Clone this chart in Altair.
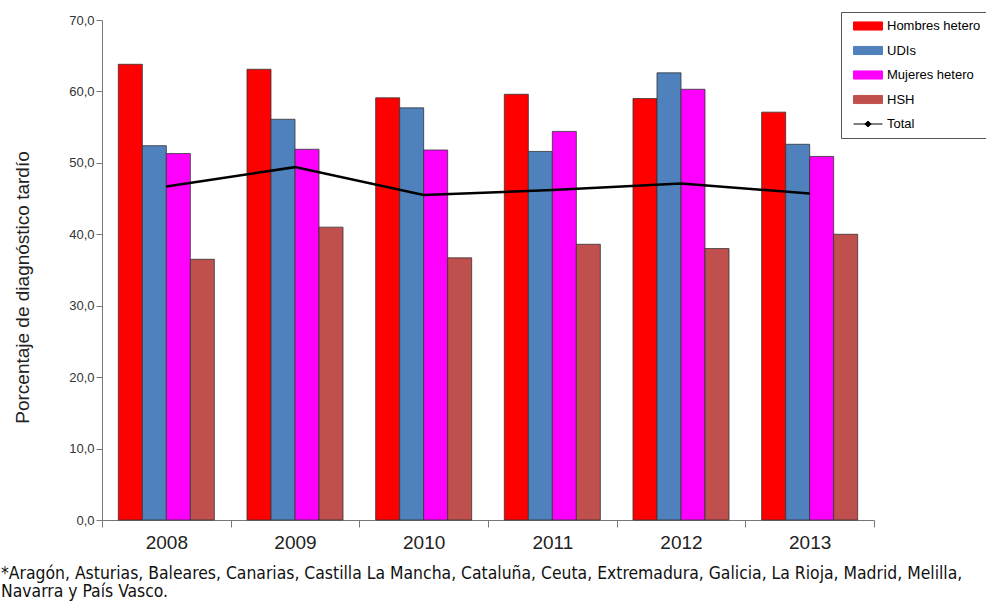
import altair as alt
import pandas as pd

years = ["2008", "2009", "2010", "2011", "2012", "2013"]
series = ["Hombres hetero", "UDIs", "Mujeres hetero", "HSH"]
hombres = [63.8, 63.1, 59.1, 59.6, 59.0, 57.1]
udis = [52.4, 56.1, 57.7, 51.6, 62.6, 52.6]
mujeres = [51.3, 51.9, 51.8, 54.4, 60.3, 50.9]
hsh = [36.5, 41.0, 36.7, 38.6, 38.0, 40.0]
total = [46.7, 49.4, 45.5, 46.2, 47.1, 45.7]
colors = ["#FF0000", "#4F81BD", "#FF00FF", "#C0504D", "#000000"]
footnote = [
    "*Aragón, Asturias, Baleares, Canarias, Castilla La Mancha, Cataluña, Ceuta, Extremadura, Galicia, La Rioja, Madrid, Melilla,",
    "Navarra y País Vasco.",
]

rows = []
for s, vals in zip(series, [hombres, udis, mujeres, hsh]):
    for y, v in zip(years, vals):
        rows.append({"year": y, "serie": s, "value": v})
bars_df = pd.DataFrame(rows)
total_df = pd.DataFrame({"year": years, "serie": "Total", "value": total})

legend_domain = series + ["Total"]
rect = "M-1,-0.28H1V0.28H-1Z"
line_sym = "M-1,0H1M-0.22,0L0,-0.2L0.22,0L0,0.2Z"

color_scale = alt.Scale(domain=legend_domain, range=colors)
shape_scale = alt.Scale(domain=legend_domain, range=[rect, rect, rect, rect, line_sym])

legend = alt.Legend(
    title=None, orient="none", legendX=739, legendY=-8,
    strokeColor="#555", fillColor="white", padding=7,
    labelFont="Liberation Sans", labelFontSize=13, labelColor="#000",
    labelOffset=4, symbolSize=841, symbolStrokeColor="#333",
    symbolStrokeWidth=1, clipHeight=14, rowPadding=10.5, symbolOffset=5,
)

x_enc = alt.X(
    "year:N", sort=years, title=None,
    scale=alt.Scale(paddingInner=0, paddingOuter=0),
    axis=alt.Axis(
        labelAngle=0, labelFont="Liberation Sans", labelFontSize=19,
        labelColor="#222", labelPadding=6, tickBand="extent", tickSize=7,
        tickColor="#777", domainColor="#777", ticks=True,
    ),
)
y_enc = alt.Y(
    "value:Q", title="Porcentaje de diagnóstico tardío",
    scale=alt.Scale(domain=[0, 70], nice=False),
    axis=alt.Axis(
        values=[0, 10, 20, 30, 40, 50, 60, 70],
        labelExpr="replace(format(datum.value, '.1f'), '.', ',')",
        labelFont="Liberation Sans", labelFontSize=13, labelColor="#333",
        tickSize=6, tickColor="#777", domainColor="#777", grid=False,
        titleFont="Liberation Sans", titleFontSize=19, titleFontWeight="normal",
        titleColor="#222", titleX=-80, titleY=267, titleAngle=-90,
        titleAlign="center", titleBaseline="middle",
    ),
)

bars = alt.Chart(bars_df).mark_bar(stroke="#333", strokeWidth=0.8).encode(
    x=x_enc,
    xOffset=alt.XOffset("serie:N", sort=series,
                        scale=alt.Scale(paddingInner=0, paddingOuter=0.68)),
    y=y_enc,
    color=alt.Color("serie:N", scale=color_scale, legend=legend),
    shape=alt.Shape("serie:N", scale=shape_scale, legend=legend),
)

line = alt.Chart(total_df).mark_line(
    strokeWidth=2.5,
    point=alt.OverlayMarkDef(shape="diamond", size=30, filled=True, color="black"),
).encode(
    x=alt.X("year:N", sort=years),
    y=alt.Y("value:Q"),
    color=alt.Color("serie:N", scale=color_scale, legend=legend),
    shape=alt.Shape("serie:N", scale=shape_scale, legend=legend),
)

chart = alt.layer(bars, line).properties(
    width=772, height=500,
    autosize=alt.AutoSizeParams(type="none"),
    padding={"left": 102, "top": 20, "right": 112, "bottom": 83},
    title=alt.TitleParams(
        text=footnote, orient="bottom", anchor="start", frame="group",
        dx=-101, offset=13, font="DejaVu Sans Condensed", fontSize=17.4,
        fontWeight="normal", color="#111", lineHeight=18,
    ),
).configure_view(stroke=None).configure_axis(labelFontWeight="normal")

chart.save("out.html", embed_options={"renderer": "svg", "actions": False})
